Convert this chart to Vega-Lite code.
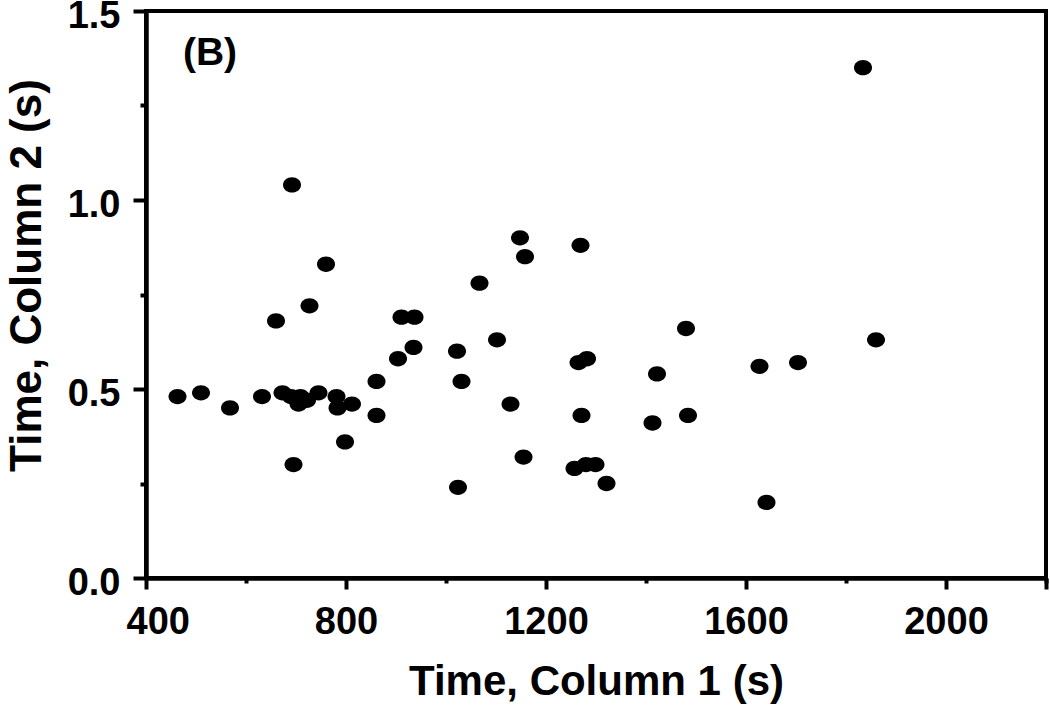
{
  "$schema": "https://vega.github.io/schema/vega-lite/v6.json",
  "width": 900,
  "height": 567,
  "autosize": {"type": "none"},
  "padding": {"left": 146, "top": 11, "right": 4, "bottom": 131},
  "background": "white",
  "config": {
    "view": {"stroke": "black", "strokeWidth": 4},
    "font": "Liberation Sans",
    "axis": {"grid": false, "domainColor": "black", "domainWidth": 4, "tickColor": "black", "tickWidth": 4, "labelColor": "black", "titleColor": "black", "labelFont": "Liberation Sans", "titleFont": "Liberation Sans"}
  },
  "datasets": {
    "pts": [
      {"t1": 463, "t2": 0.48}, {"t1": 510, "t2": 0.49}, {"t1": 568, "t2": 0.45}, {"t1": 632, "t2": 0.48},
      {"t1": 660, "t2": 0.68}, {"t1": 673, "t2": 0.49}, {"t1": 690, "t2": 0.48}, {"t1": 692, "t2": 1.04},
      {"t1": 695, "t2": 0.30}, {"t1": 705, "t2": 0.46}, {"t1": 709, "t2": 0.48}, {"t1": 722, "t2": 0.47},
      {"t1": 727, "t2": 0.72}, {"t1": 745, "t2": 0.49}, {"t1": 760, "t2": 0.83}, {"t1": 781, "t2": 0.48},
      {"t1": 783, "t2": 0.45}, {"t1": 798, "t2": 0.36}, {"t1": 812, "t2": 0.46}, {"t1": 861, "t2": 0.52},
      {"t1": 861, "t2": 0.43}, {"t1": 904, "t2": 0.58}, {"t1": 911, "t2": 0.69}, {"t1": 935, "t2": 0.61},
      {"t1": 937, "t2": 0.69}, {"t1": 1022, "t2": 0.60}, {"t1": 1024, "t2": 0.24}, {"t1": 1031, "t2": 0.52},
      {"t1": 1067, "t2": 0.78}, {"t1": 1102, "t2": 0.63}, {"t1": 1129, "t2": 0.46}, {"t1": 1148, "t2": 0.90},
      {"t1": 1155, "t2": 0.32}, {"t1": 1158, "t2": 0.85}, {"t1": 1257, "t2": 0.29}, {"t1": 1265, "t2": 0.57},
      {"t1": 1269, "t2": 0.88}, {"t1": 1271, "t2": 0.43}, {"t1": 1280, "t2": 0.30}, {"t1": 1282, "t2": 0.58},
      {"t1": 1299, "t2": 0.30}, {"t1": 1321, "t2": 0.25}, {"t1": 1413, "t2": 0.41}, {"t1": 1422, "t2": 0.54},
      {"t1": 1480, "t2": 0.66}, {"t1": 1484, "t2": 0.43}, {"t1": 1627, "t2": 0.56}, {"t1": 1641, "t2": 0.20},
      {"t1": 1704, "t2": 0.57}, {"t1": 1834, "t2": 1.35}, {"t1": 1860, "t2": 0.63}
    ],
    "ann": [{"label": "(B)", "x": 528, "y": 1.39}]
  },
  "layer": [
    {
      "data": {"name": "pts"},
      "mark": {"type": "point", "shape": "M-1,0A1,0.85,0,1,1,1,0A1,0.85,0,1,1,-1,0Z", "filled": true, "color": "black", "opacity": 1, "size": 324, "strokeWidth": 0},
      "encoding": {
        "x": {"field": "t1", "type": "quantitative", "scale": {"domain": [400, 2200], "nice": false, "zero": false},
          "axis": {"orient": "bottom", "values": [400, 800, 1200, 1600, 2000, 2200], "format": "d", "labelExpr": "datum.value == 2200 ? '' : datum.label", "tickSize": 11, "labelFontSize": 38, "labelFontWeight": "bold", "labelPadding": 14, "labelFlush": true, "labelFlushOffset": 20, "title": "Time, Column 1 (s)", "titleFontSize": 42, "titleFontWeight": "bold", "titlePadding": 20}},
        "y": {"field": "t2", "type": "quantitative", "scale": {"domain": [0, 1.5], "nice": false, "zero": true},
          "axis": {"orient": "left", "values": [0, 0.5, 1, 1.5], "format": ".1f", "tickSize": 13, "labelFontSize": 38, "labelFontWeight": "bold", "labelPadding": 13, "labelOffset": 5, "labelFlush": false, "title": "Time, Column 2 (s)", "titleFontSize": 44, "titleFontWeight": "bold", "titlePadding": 18, "titleAnchor": "middle", "titleY": 264}}
      }
    },
    {
      "data": {"name": "pts"},
      "mark": {"type": "point", "opacity": 0},
      "encoding": {
        "x": {"field": "t1", "type": "quantitative", "scale": {"domain": [400, 2200], "nice": false, "zero": false},
          "axis": {"orient": "bottom", "values": [600, 1000, 1400, 1800, 2200], "tickSize": 5, "labels": false, "title": null}},
        "y": {"field": "t2", "type": "quantitative", "scale": {"domain": [0, 1.5], "nice": false, "zero": true},
          "axis": {"orient": "left", "values": [0.25, 0.75, 1.25], "tickSize": 6, "labels": false, "title": null}}
      }
    },
    {
      "data": {"name": "ann"},
      "mark": {"type": "text", "fontSize": 39, "fontWeight": "bold", "font": "Liberation Sans", "color": "black", "align": "center", "baseline": "middle"},
      "encoding": {
        "x": {"field": "x", "type": "quantitative", "scale": {"domain": [400, 2200], "nice": false, "zero": false}, "axis": null},
        "y": {"field": "y", "type": "quantitative", "scale": {"domain": [0, 1.5], "nice": false, "zero": true}, "axis": null},
        "text": {"field": "label"}
      }
    }
  ],
  "resolve": {"axis": {"x": "independent", "y": "independent"}}
}
